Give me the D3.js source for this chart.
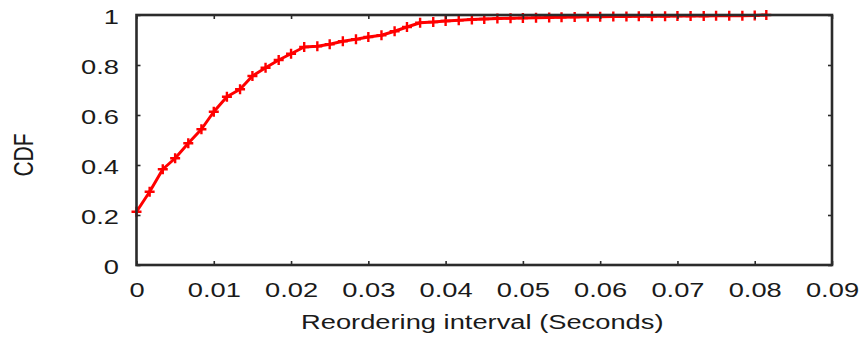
<!DOCTYPE html>
<html>
<head>
<meta charset="utf-8">
<script src="https://cdn.jsdelivr.net/npm/d3@7/dist/d3.min.js"></script>
<style>
  html, body { margin: 0; padding: 0; background: #fff; }
  svg { display: block; }
  text { font-family: "Liberation Sans", Arial, sans-serif; fill: #1a1a1a; }
</style>
</head>
<body>
<svg id="chart" width="863" height="340"></svg>
<script>
const intervalSeconds = [
  0.0000, 0.0017, 0.0034, 0.0050, 0.0067, 0.0084, 0.0100, 0.0117, 0.0134, 0.0150,
  0.0167, 0.0184, 0.0200, 0.0217, 0.0234, 0.0250, 0.0267, 0.0284, 0.0300, 0.0317,
  0.0334, 0.0350, 0.0367, 0.0384, 0.0400, 0.0417, 0.0434, 0.0450, 0.0467, 0.0484,
  0.0500, 0.0517, 0.0534, 0.0550, 0.0567, 0.0584, 0.0600, 0.0617, 0.0634, 0.0650,
  0.0667, 0.0684, 0.0700, 0.0717, 0.0734, 0.0750, 0.0767, 0.0784, 0.0800, 0.0815
];
const cdfValues = [
  0.213, 0.293, 0.383, 0.427, 0.487, 0.543, 0.613, 0.673, 0.703, 0.756,
  0.789, 0.820, 0.845, 0.872, 0.875, 0.883, 0.895, 0.903, 0.912, 0.919,
  0.935, 0.952, 0.969, 0.972, 0.976, 0.979, 0.982, 0.984, 0.986, 0.987,
  0.988, 0.989, 0.990, 0.991, 0.992, 0.993, 0.993, 0.994, 0.994, 0.995,
  0.995, 0.995, 0.996, 0.996, 0.996, 0.997, 0.997, 0.997, 0.998, 1.000
];
const xTicks = [0, 0.01, 0.02, 0.03, 0.04, 0.05, 0.06, 0.07, 0.08, 0.09];
const yTicks = [0, 0.2, 0.4, 0.6, 0.8, 1];
const xLabel = "Reordering interval (Seconds)";
const yLabel = "CDF";

const svg = d3.select("#chart");
const L = 136.5, R = 832, T = 15, B = 265;
const x = d3.scaleLinear().domain([0, 0.09]).range([L, R]);
const y = d3.scaleLinear().domain([0, 1]).range([B, T]);
const fmt = d => d === 0 ? "0" : (d === 1 ? "1" : String(d));

const frameColor = "#2b2b2b";
const fontSize = 21;
const stretch = 1.3;

// data line
const data = intervalSeconds.map((v, i) => [v, cdfValues[i]]);
svg.append("path")
  .datum(data)
  .attr("fill", "none")
  .attr("stroke", "#ff0000")
  .attr("stroke-width", 3)
  .attr("stroke-linejoin", "round")
  .attr("d", d3.line().x(d => x(d[0])).y(d => y(d[1])));

// plus markers
const ms = 5;
svg.append("g").selectAll("path.mk")
  .data(data).enter().append("path")
  .attr("class", "mk")
  .attr("fill", "none")
  .attr("stroke", "#ff0000")
  .attr("stroke-width", 2.4)
  .attr("d", d => {
    const cx = x(d[0]), cy = y(d[1]);
    return `M${cx - ms},${cy}H${cx + ms}M${cx},${cy - ms}V${cy + ms}`;
  });

// axes (labels + inward ticks)
const tickLen = 4;
const xAxisB = svg.append("g").attr("transform", `translate(0,${B})`)
  .call(d3.axisBottom(x).tickValues(xTicks).tickFormat(fmt).tickSizeInner(-tickLen).tickSizeOuter(0));
const xAxisT = svg.append("g").attr("transform", `translate(0,${T})`)
  .call(d3.axisTop(x).tickValues(xTicks).tickFormat("").tickSizeInner(-tickLen).tickSizeOuter(0));
const yAxisL = svg.append("g").attr("transform", `translate(${L},0)`)
  .call(d3.axisLeft(y).tickValues(yTicks).tickFormat(fmt).tickSizeInner(-tickLen).tickSizeOuter(0));
const yAxisR = svg.append("g").attr("transform", `translate(${R},0)`)
  .call(d3.axisRight(y).tickValues(yTicks).tickFormat("").tickSizeInner(-tickLen).tickSizeOuter(0));

[xAxisB, xAxisT, yAxisL, yAxisR].forEach(g => {
  g.select(".domain").remove();
  g.selectAll(".tick line").attr("stroke", frameColor).attr("stroke-width", 1.6);
  g.selectAll(".tick text")
    .attr("font-family", "'Liberation Sans', Arial, sans-serif")
    .attr("font-size", fontSize)
    .attr("fill", "#1a1a1a");
});
xAxisB.selectAll(".tick text")
  .attr("x", 0).attr("y", 32).attr("dy", 0)
  .attr("transform", `scale(${stretch},1)`);
yAxisL.selectAll(".tick text")
  .attr("x", -(L - 119) / stretch).attr("dy", "0.4em")
  .attr("transform", `scale(${stretch},1)`);

// frame
svg.append("rect")
  .attr("x", L).attr("y", T)
  .attr("width", R - L).attr("height", B - T)
  .attr("fill", "none")
  .attr("stroke", frameColor)
  .attr("stroke-width", 2.6);

// axis titles
svg.append("text")
  .attr("transform", `translate(${(L + R) / 2 - 2},329) scale(${stretch},1)`)
  .attr("text-anchor", "middle")
  .attr("font-size", fontSize)
  .text(xLabel);

svg.append("text")
  .attr("transform", `translate(33,${(T + B) / 2 + 15}) rotate(-90) scale(1,${stretch})`)
  .attr("text-anchor", "middle")
  .attr("font-size", fontSize)
  .text(yLabel);
</script>
</body>
</html>
